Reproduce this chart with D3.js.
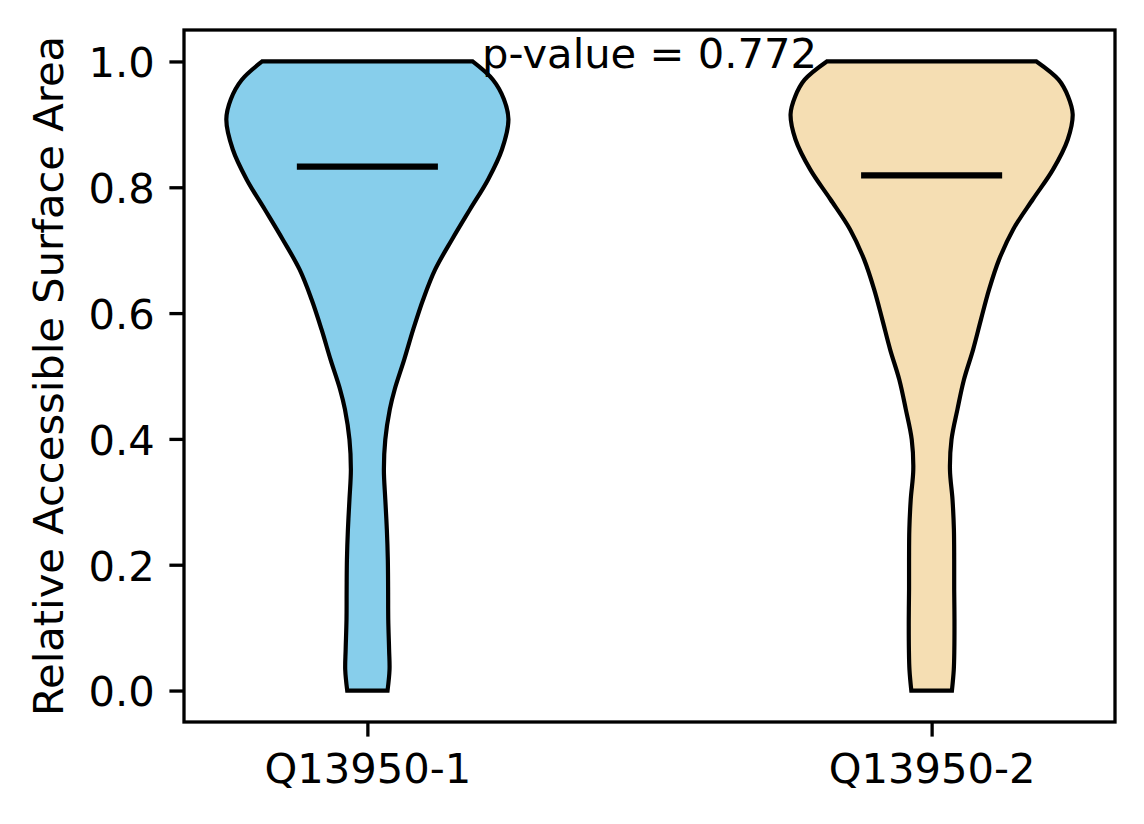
<!DOCTYPE html>
<html>
<head>
<meta charset="utf-8">
<script src="https://d3js.org/d3.v7.min.js"></script>
<style>
  body { margin: 0; background: #fff; }
  text { font-family: "DejaVu Sans", sans-serif; }
</style>
</head>
<body>
<svg id="chart" width="1144" height="824"></svg>
<script>
// categories and summary values
var categories = ["Q13950-1", "Q13950-2"];
var medians = [0.833, 0.819];
var colors = ["#87CEEB", "#F5DEB3"];
var pValueText = "p-value = 0.772";
var yTicks = [0, 0.2, 0.4, 0.6, 0.8, 1.0];

// violin outlines: RSA value and relative density (1 = widest point)
var violinGrid1 = [0.0, 0.033, 0.065, 0.113, 0.161, 0.208, 0.256, 0.304, 0.351, 0.399, 0.447, 0.479,
  0.526, 0.574, 0.622, 0.669, 0.717, 0.765, 0.812, 0.860, 0.908, 0.940, 0.971, 1.0];
var violinDensity1 = [0.143, 0.157, 0.154, 0.148, 0.147, 0.145, 0.138, 0.127, 0.117, 0.127, 0.159, 0.194,
  0.261, 0.325, 0.396, 0.48, 0.60, 0.728, 0.855, 0.954, 1.0, 0.968, 0.89, 0.746];

var violinGrid2 = [0.0, 0.033, 0.065, 0.113, 0.161, 0.208, 0.256, 0.304, 0.351, 0.399, 0.447, 0.494,
  0.542, 0.590, 0.638, 0.685, 0.733, 0.781, 0.828, 0.876, 0.916, 0.944, 0.971, 1.0];
var violinDensity2 = [0.144, 0.157, 0.161, 0.162, 0.16, 0.16, 0.158, 0.148, 0.130, 0.141, 0.183, 0.229,
  0.294, 0.350, 0.408, 0.478, 0.578, 0.718, 0.86, 0.965, 1.0, 0.968, 0.90, 0.743];

var violins = [
  { grid: violinGrid1, dens: violinDensity1 },
  { grid: violinGrid2, dens: violinDensity2 }
];

var fontSize = 41.67;
var plotLeft = 184, plotRight = 1115, plotTop = 30, plotBottom = 722;

var svg = d3.select("#chart");

var x = d3.scaleLinear().domain([0.675, 2.325]).range([plotLeft, plotRight]);
var y = d3.scaleLinear().domain([-0.05, 1.05]).range([plotBottom, plotTop]);

var halfWidth = 0.25;  // widths = 0.5

violins.forEach(function(v, i) {
  var pos = i + 1;
  var pts = v.grid.map(function(g, k) { return { v: g, d: v.dens[k] }; });
  var area = d3.area()
      .curve(d3.curveCatmullRom.alpha(0.5))
      .y(function(d) { return y(d.v); })
      .x0(function(d) { return x(pos - d.d * halfWidth); })
      .x1(function(d) { return x(pos + d.d * halfWidth); });

  svg.append("path")
      .datum(pts)
      .attr("d", area)
      .style("fill", colors[i])
      .style("stroke", "#000")
      .style("stroke-width", "4.2px")
      .style("stroke-linejoin", "miter");

  svg.append("line")
      .attr("x1", x(pos - 0.125))
      .attr("x2", x(pos + 0.125))
      .attr("y1", y(medians[i]))
      .attr("y2", y(medians[i]))
      .style("stroke", "#000")
      .style("stroke-width", "6.25px");
});

// p-value annotation
svg.append("text")
    .attr("x", x(1.5))
    .attr("y", y(0.99))
    .attr("text-anchor", "middle")
    .style("font-size", fontSize + "px")
    .text(pValueText);

// y axis
var yAxis = svg.append("g")
    .attr("transform", "translate(" + plotLeft + ",0)")
    .call(d3.axisLeft(y).tickValues(yTicks).tickFormat(d3.format(".1f"))
      .tickSize(14.6).tickPadding(14.6));
yAxis.select(".domain").remove();
yAxis.selectAll(".tick line").style("stroke-width", "3.3px");
yAxis.selectAll(".tick text")
    .attr("dy", "0.37em")
    .style("font-size", fontSize + "px")
    .style("font-family", "DejaVu Sans, sans-serif");

// x axis
var xAxis = svg.append("g")
    .attr("transform", "translate(0," + plotBottom + ")")
    .call(d3.axisBottom(x).tickValues([1, 2])
      .tickFormat(function(d) { return categories[d - 1]; })
      .tickSize(14.6).tickPadding(14.6));
xAxis.select(".domain").remove();
xAxis.selectAll(".tick line").style("stroke-width", "3.3px");
xAxis.selectAll(".tick text")
    .attr("dy", "0.76em")
    .style("font-size", fontSize + "px")
    .style("font-family", "DejaVu Sans, sans-serif");

// frame
svg.append("rect")
    .attr("x", plotLeft).attr("y", plotTop)
    .attr("width", plotRight - plotLeft).attr("height", plotBottom - plotTop)
    .style("fill", "none")
    .style("stroke", "#000")
    .style("stroke-width", "3.3px");

// y label
svg.append("text")
    .attr("transform", "translate(63," + ((plotTop + plotBottom) / 2) + ") rotate(-90)")
    .attr("text-anchor", "middle")
    .style("font-size", fontSize + "px")
    .text("Relative Accessible Surface Area");
</script>
</body>
</html>
